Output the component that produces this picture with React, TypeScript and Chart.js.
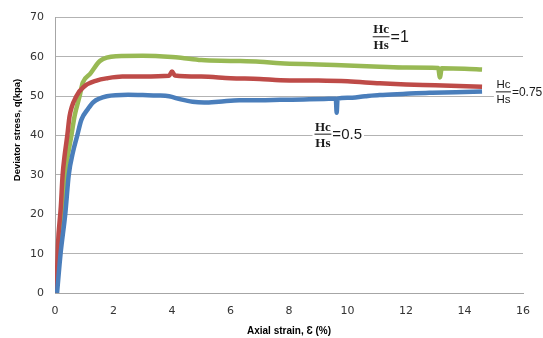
import { useEffect, useRef } from "react";
import { Chart, registerables } from "chart.js";

Chart.register(...registerables);

// Hc/Hs = 0.5 (blue)
const strainHalf = [0.07, 0.19, 0.35, 0.47, 0.62, 0.76, 0.9, 1.13, 1.31, 1.77, 2.5, 3.0, 3.5, 3.9, 4.3, 4.7, 5.1, 5.6, 6.3, 7.0, 7.7, 8.5, 9.2, 9.6, 9.63, 9.66, 10.0, 10.6, 11.1, 11.9, 12.8, 13.7, 14.6];
const stressHalf = [0, 10, 20, 30, 36, 40, 44, 46.8, 48.5, 50, 50.4, 50.3, 50.2, 50, 49.2, 48.6, 48.4, 48.6, 49, 49, 49.1, 49.2, 49.3, 49.4, 45.8, 49.4, 49.6, 50, 50.3, 50.6, 50.9, 51, 51.2];

// Hc/Hs = 0.75 (red)
const strainThreeQ = [0.05, 0.1, 0.2, 0.26, 0.33, 0.42, 0.5, 0.73, 1.0, 1.42, 1.8, 2.3, 3.0, 3.9, 4.0, 4.1, 5.0, 6.0, 7.0, 7.7, 9.0, 10.0, 11.1, 12.0, 13.0, 14.6];
const stressThreeQ = [0, 12, 22, 30, 35, 40, 45, 50, 52.5, 54, 54.6, 55, 55, 55.2, 56.3, 55.3, 55, 54.6, 54.4, 54.1, 54, 53.8, 53.3, 53, 52.8, 52.4];

// Hc/Hs = 1 (green)
const strainOne = [0.05, 0.14, 0.27, 0.35, 0.42, 0.56, 0.67, 0.84, 0.95, 1.2, 1.54, 2.1, 3.0, 4.0, 4.3, 5.0, 6.0, 7.0, 7.7, 9.0, 10.0, 11.1, 12.0, 13.1, 13.16, 13.22, 14.0, 14.6];
const stressOne = [0, 10, 20, 30, 34, 40, 45, 50, 53.5, 55.7, 59, 60.2, 60.3, 60, 59.8, 59.2, 59, 58.8, 58.4, 58.1, 57.8, 57.5, 57.3, 57.2, 54.8, 57.1, 57, 56.8];

const xTicks = [0, 2, 4, 6, 8, 10, 12, 14, 16];
const yTicks = [0, 10, 20, 30, 40, 50, 60, 70];

const seriesLabels = ["Hc/Hs=0.5", "Hc/Hs=0.75", "Hc/Hs=1"];
const seriesColors = ["#4a7ebb", "#be4b48", "#98b954"];

// fraction annotations: numerator, denominator, suffix, anchor strain, anchor stress
const annoNum = ["Hc", "Hc", "Hc"];
const annoDen = ["Hs", "Hs", "Hs"];
const annoSuffix = ["=1", "=0.75", "=0.5"];
const annoStrain = [11.15, 15.33, 9.16];
const annoStress = [65.25, 51.25, 40.5];
const annoFracFont = ["bold 13px 'Liberation Serif'", "11.5px 'Liberation Sans'", "bold 13px 'Liberation Serif'"];
const annoSuffixFont = ["16px 'Liberation Sans'", "12px 'Liberation Sans'", "15px 'Liberation Sans'"];

const yTitle = "Deviator stress, q(kpa)";
const xTitle = "Axial strain, \u0190 (%)";

function pts(xs: number[], ys: number[]) {
  return xs.map((x, i) => ({ x, y: ys[i] }));
}

const annoPlugin = {
  id: "fractionLabels",
  afterDraw(chart: any) {
    const { ctx, scales } = chart;
    const xs = scales.x;
    const ys = scales.y;
    ctx.save();
    for (let i = 0; i < annoNum.length; i++) {
      const cx = xs.getPixelForValue(annoStrain[i]);
      const cy = ys.getPixelForValue(annoStress[i]);
      ctx.font = annoFracFont[i];
      const w = Math.max(ctx.measureText(annoNum[i]).width, ctx.measureText(annoDen[i]).width) + 1;
      ctx.font = annoSuffixFont[i];
      const sw = ctx.measureText(annoSuffix[i]).width;
      ctx.fillStyle = "#ffffff";
      ctx.fillRect(cx - w / 2 - 2, cy - 13, w + sw + 5, 27);
      ctx.fillStyle = "#1a1a1a";
      ctx.strokeStyle = "#1a1a1a";
      ctx.lineWidth = 1;
      ctx.font = annoFracFont[i];
      ctx.textAlign = "center";
      ctx.textBaseline = "alphabetic";
      ctx.fillText(annoNum[i], cx, cy - 3);
      ctx.textBaseline = "top";
      ctx.fillText(annoDen[i], cx, cy + 3);
      ctx.beginPath();
      ctx.moveTo(cx - w / 2, cy + 0.5);
      ctx.lineTo(cx + w / 2, cy + 0.5);
      ctx.stroke();
      ctx.font = annoSuffixFont[i];
      ctx.textAlign = "left";
      ctx.textBaseline = "middle";
      ctx.fillText(annoSuffix[i], cx + w / 2 + 1, cy + 1);
    }
    // y axis title
    ctx.translate(17.5, 130);
    ctx.rotate(-Math.PI / 2);
    ctx.font = "bold 9.5px 'Liberation Sans'";
    ctx.fillStyle = "#000000";
    ctx.textAlign = "center";
    ctx.textBaseline = "middle";
    ctx.fillText(yTitle, 0, 0);
    ctx.restore();
  },
};

export default function App() {
  const ref = useRef<HTMLCanvasElement | null>(null);
  useEffect(() => {
    document.body.style.margin = "0";
    const canvas = ref.current;
    if (!canvas) return;
    const makeSet = (i: number, xs: number[], ys: number[]) => ({
      label: seriesLabels[i],
      data: pts(xs, ys),
      borderColor: seriesColors[i],
      backgroundColor: seriesColors[i],
      borderWidth: 4.5,
      pointRadius: 0,
      showLine: true,
      cubicInterpolationMode: "monotone",
      fill: false,
    });
    const chart = new Chart(canvas, {
      type: "scatter",
      data: {
        datasets: [
          makeSet(0, strainHalf, stressHalf),
          makeSet(1, strainThreeQ, stressThreeQ),
          makeSet(2, strainOne, stressOne),
        ],
      },
      options: {
        animation: false,
        responsive: false,
        maintainAspectRatio: false,
        layout: { padding: { top: 13, right: 20, left: 0, bottom: 0 } },
        plugins: { legend: { display: false }, tooltip: { enabled: false } },
        scales: {
          x: {
            type: "linear",
            min: 0,
            max: 16,
            afterBuildTicks: (s: any) => {
              s.ticks = xTicks.map((v) => ({ value: v }));
            },
            afterFit: (s: any) => {
              s.height = 45;
            },
            grid: { display: false, drawTicks: false },
            border: { display: true, color: "#a6a6a6", width: 1 },
            ticks: {
              padding: 12,
              color: "#333333",
              font: { family: "'DejaVu Sans'", size: 11 },
            },
            title: {
              display: true,
              text: xTitle,
              color: "#000000",
              font: { family: "'Liberation Sans'", size: 10, weight: "bold" },
              padding: { top: 0, bottom: 1 },
            },
          },
          y: {
            type: "linear",
            min: 0,
            max: 70,
            afterBuildTicks: (s: any) => {
              s.ticks = yTicks.map((v) => ({ value: v }));
            },
            afterFit: (s: any) => {
              s.width = 55;
            },
            grid: { color: "#b3b3b3", lineWidth: 1, drawTicks: false },
            border: { display: true, color: "#a6a6a6", width: 1 },
            ticks: {
              padding: 11,
              color: "#333333",
              font: { family: "'DejaVu Sans'", size: 11 },
            },
          },
        },
      },
      plugins: [annoPlugin],
    } as any);
    return () => chart.destroy();
  }, []);
  return (
    <div style={{ width: 543, height: 338, background: "#ffffff" }}>
      <canvas ref={ref} width={543} height={338} style={{ display: "block" }} />
    </div>
  );
}
